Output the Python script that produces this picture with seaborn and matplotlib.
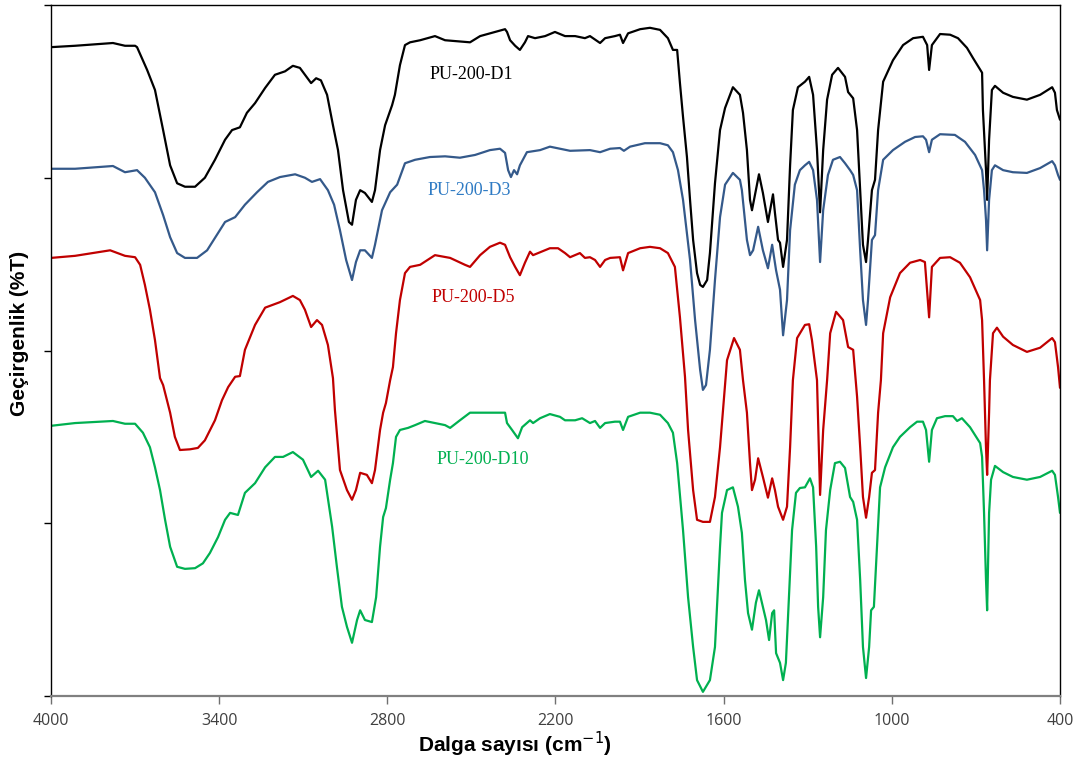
import numpy as np
import pandas as pd
import matplotlib
matplotlib.use("Agg")
import matplotlib.pyplot as plt
import seaborn as sns

# FTIR spectra (offset-stacked transmittance) of PU-200 samples
d1_wn = [4000, 3914, 3779, 3736, 3700, 3693, 3657, 3629, 3600, 3575, 3550, 3522, 3486, 3451, 3415,
         3379, 3354, 3326, 3301, 3272, 3236, 3201, 3165, 3137, 3112, 3094, 3072, 3054, 3037, 3015,
         2994, 2976, 2958, 2937, 2926, 2912, 2897, 2880, 2855, 2844, 2826, 2808, 2783, 2773, 2755,
         2737, 2719, 2683, 2630, 2594, 2505, 2469, 2416, 2380, 2373, 2362, 2344, 2327, 2309, 2298,
         2273, 2237, 2202, 2166, 2130, 2095, 2077, 2041, 2023, 1988, 1970, 1959, 1941, 1898, 1863,
         1827, 1799, 1781, 1766, 1756, 1745, 1731, 1720, 1709, 1695, 1684, 1674, 1659, 1649, 1631,
         1613, 1595, 1567, 1542, 1531, 1517, 1506, 1499, 1474, 1460, 1442, 1424, 1417, 1406, 1399,
         1388, 1374, 1363, 1353, 1335, 1310, 1295, 1281, 1267, 1256, 1245, 1231, 1213, 1192, 1167,
         1156, 1138, 1124, 1113, 1103, 1092, 1085, 1071, 1060, 1049, 1031, 996, 960, 924, 889, 874,
         867, 857, 828, 792, 764, 732, 710, 678, 675, 664, 660, 653, 643, 632, 603, 568, 518, 471,
         428, 418, 411, 400]
d1_t = [93.9, 94.1, 94.5, 94.1, 94.1, 93.9, 90.6, 87.7, 81.9, 76.8, 74.2, 73.7, 73.7, 75.0, 77.6,
        80.5, 81.9, 82.3, 84.4, 85.8, 88.0, 89.9, 90.4, 91.2, 90.9, 89.9, 88.7, 89.4, 89.1, 87.0,
        82.6, 79.0, 73.2, 68.6, 68.2, 71.8, 73.2, 72.8, 71.5, 73.2, 79.0, 82.6, 85.5, 87.0, 91.3,
        94.2, 94.6, 94.9, 95.5, 94.9, 94.6, 95.5, 96.1, 96.5, 96.1, 94.9, 94.1, 93.5, 94.6, 95.5,
        95.2, 95.5, 96.1, 95.5, 95.5, 95.2, 95.5, 94.5, 95.2, 95.5, 95.7, 94.5, 95.9, 96.5, 96.7,
        96.4, 95.2, 93.5, 93.5, 88.7, 83.8, 78.0, 71.8, 66.0, 61.2, 59.5, 59.2, 60.2, 64.1, 74.2,
        81.9, 85.1, 88.1, 87.0, 84.4, 79.0, 71.8, 70.3, 75.5, 72.8, 68.6, 72.6, 69.9, 66.0, 65.6,
        62.1, 66.0, 76.8, 84.8, 88.1, 88.9, 89.6, 87.0, 79.0, 70.0, 79.0, 86.3, 89.9, 90.9, 89.6,
        87.4, 86.5, 81.9, 73.2, 65.3, 62.8, 66.0, 73.2, 74.7, 81.9, 88.9, 92.0, 94.2, 95.2, 95.4, 94.2,
        90.6, 94.2, 95.8, 95.7, 95.2, 93.8, 92.3, 90.2, 84.8, 76.1, 71.8, 80.5, 87.7, 88.3, 87.3, 86.7,
        86.3, 87.0, 88.1, 87.3, 84.8, 83.4]

d3_wn = [4000, 3914, 3779, 3736, 3693, 3665, 3629, 3600, 3575, 3550, 3522, 3479, 3443, 3415, 3379,
         3343, 3308, 3265, 3226, 3183, 3129, 3094, 3069, 3040, 3012, 2990, 2969, 2947, 2926, 2912,
         2897, 2880, 2855, 2844, 2819, 2790, 2765, 2737, 2701, 2648, 2594, 2541, 2487, 2434, 2398,
         2380, 2369, 2359, 2348, 2337, 2327, 2302, 2255, 2220, 2148, 2077, 2041, 2005, 1970, 1956,
         1934, 1881, 1827, 1799, 1781, 1763, 1745, 1720, 1702, 1684, 1674, 1663, 1649, 1631, 1613,
         1595, 1567, 1542, 1535, 1517, 1506, 1495, 1477, 1460, 1442, 1427, 1413, 1399, 1388, 1374,
         1363, 1346, 1328, 1310, 1295, 1281, 1267, 1256, 1245, 1228, 1210, 1185, 1167, 1149, 1138,
         1124, 1113, 1103, 1092, 1085, 1071, 1060, 1049, 1031, 996, 953, 917, 889, 878, 867, 857,
         828, 775, 739, 703, 678, 671, 664, 660, 653, 643, 632, 603, 568, 518, 471, 428, 418, 407, 400]
d3_t = [76.3, 76.3, 76.7, 75.8, 76.1, 75.0, 72.9, 69.6, 66.4, 64.1, 63.4, 63.4, 64.5, 66.3, 68.6,
        69.3, 71.1, 72.9, 74.4, 75.1, 75.5, 75.0, 74.4, 74.8, 73.2, 71.1, 67.4, 63.1, 60.2, 62.8,
        64.5, 64.5, 63.4, 65.3, 70.3, 72.9, 74.0, 77.1, 77.6, 78.0, 78.1, 77.9, 78.3, 79.0, 79.2,
        78.6, 76.1, 75.1, 76.1, 75.5, 76.8, 78.7, 79.0, 79.5, 78.9, 79.0, 78.7, 79.2, 79.3, 78.9,
        79.5, 80.0, 80.0, 79.7, 78.7, 76.1, 71.8, 63.1, 54.4, 47.2, 44.3, 45.0, 50.1, 60.2, 69.3,
        74.0, 75.7, 74.7, 73.2, 66.0, 63.8, 64.5, 67.9, 64.5, 61.9, 65.3, 61.6, 58.8, 52.2, 57.3,
        67.4, 74.0, 76.1, 76.8, 77.3, 76.1, 71.8, 62.8, 70.3, 75.4, 77.6, 78.0, 77.1, 76.1, 75.4,
        73.2, 64.5, 57.3, 53.7, 57.3, 66.0, 66.7, 73.2, 77.6, 79.0, 80.2, 80.9, 81.0, 80.5, 78.7, 80.5,
        81.3, 81.2, 80.2, 78.3, 76.1, 73.2, 68.9, 64.5, 71.8, 76.1, 76.8, 76.1, 75.8, 75.7, 76.4,
        77.4, 76.8, 75.4, 74.7]

d5_wn = [4000, 3914, 3789, 3736, 3700, 3682, 3665, 3647, 3629, 3611, 3600, 3575, 3558, 3540, 3504,
         3476, 3451, 3415, 3390, 3368, 3343, 3326, 3308, 3272, 3236, 3183, 3137, 3112, 3094, 3072,
         3051, 3033, 3012, 2994, 2987, 2969, 2944, 2926, 2912, 2897, 2873, 2855, 2844, 2826, 2815,
         2805, 2790, 2780, 2769, 2755, 2737, 2719, 2683, 2630, 2576, 2523, 2505, 2469, 2434, 2398,
         2380, 2362, 2344, 2327, 2309, 2291, 2280, 2262, 2237, 2220, 2191, 2166, 2148, 2130, 2113,
         2095, 2077, 2059, 2041, 2023, 2005, 1970, 1959, 1941, 1898, 1863, 1827, 1799, 1774, 1756,
         1738, 1727, 1709, 1695, 1674, 1649, 1631, 1613, 1588, 1563, 1542, 1531, 1517, 1506, 1499,
         1488, 1477, 1460, 1442, 1427, 1417, 1406, 1388, 1374, 1363, 1353, 1338, 1310, 1295, 1285,
         1267, 1256, 1245, 1231, 1220, 1199, 1174, 1156, 1138, 1124, 1113, 1103, 1092, 1081, 1071,
         1060, 1049, 1039, 1031, 1006, 971, 935, 899, 882, 867, 857, 828, 792, 757, 721, 685, 678,
         671, 664, 660, 653, 650, 639, 625, 603, 568, 518, 471, 428, 418, 407, 400]
d5_t = [63.4, 63.7, 64.5, 63.7, 63.5, 62.4, 59.5, 55.9, 51.5, 46.0, 45.0, 41.0, 37.5, 35.6, 35.7,
        35.9, 37.0, 39.9, 42.8, 44.7, 46.2, 46.3, 50.1, 53.7, 56.2, 57.0, 57.9, 57.3, 55.9, 53.4,
        54.4, 53.7, 50.8, 46.0, 41.4, 32.7, 29.8, 28.4, 29.8, 32.3, 32.0, 30.8, 32.7, 38.5, 41.0,
        42.4, 45.7, 47.6, 52.5, 57.3, 61.2, 62.1, 62.4, 63.8, 63.4, 62.4, 62.1, 63.8, 65.0, 65.6,
        65.3, 63.5, 62.1, 60.9, 62.7, 64.3, 63.8, 64.1, 64.5, 64.8, 64.8, 64.1, 63.5, 63.8, 64.1,
        63.4, 63.5, 63.1, 62.1, 63.1, 63.4, 63.5, 61.6, 64.1, 64.8, 65.0, 64.8, 64.1, 62.1, 54.8,
        46.2, 38.5, 29.8, 25.5, 25.2, 25.2, 28.8, 36.0, 48.6, 51.8, 50.1, 45.7, 41.0, 33.7, 29.8,
        31.3, 34.4, 31.7, 28.7, 31.5, 29.8, 27.4, 25.5, 27.4, 36.0, 45.7, 51.8, 53.7, 53.8, 51.5,
        45.7, 29.1, 38.5, 45.7, 52.5, 55.6, 54.4, 50.5, 50.1, 43.3, 36.0, 28.8, 25.8, 28.8, 32.3,
        32.7, 41.0, 45.7, 52.5, 57.7, 61.2, 62.7, 63.1, 62.8, 54.8, 62.1, 63.4, 63.5, 62.7, 60.6, 57.3, 54.4,
        45.7, 35.9, 32.0, 41.0, 45.7, 52.5, 53.3, 52.0, 50.8, 49.8, 50.4, 51.8, 51.2, 47.6, 44.6]

d10_wn = [4000, 3914, 3779, 3736, 3700, 3672, 3647, 3629, 3611, 3593, 3575, 3550, 3522, 3486, 3458,
          3433, 3404, 3379, 3361, 3333, 3308, 3272, 3236, 3201, 3172, 3137, 3101, 3072, 3047, 3022,
          2997, 2980, 2962, 2944, 2926, 2908, 2897, 2880, 2855, 2840, 2826, 2815, 2805, 2790, 2780,
          2769, 2755, 2726, 2701, 2666, 2630, 2594, 2576, 2541, 2505, 2469, 2380, 2373, 2355, 2334,
          2319, 2291, 2280, 2255, 2220, 2184, 2166, 2130, 2105, 2077, 2059, 2041, 2023, 1988, 1970,
          1959, 1941, 1898, 1863, 1827, 1799, 1781, 1766, 1745, 1727, 1709, 1695, 1674, 1649, 1631,
          1613, 1606, 1588, 1567, 1549, 1535, 1524, 1513, 1499, 1485, 1474, 1460, 1449, 1438, 1427,
          1420, 1413, 1399, 1388, 1378, 1367, 1356, 1342, 1328, 1310, 1292, 1281, 1270, 1263, 1256,
          1245, 1235, 1220, 1203, 1185, 1167, 1149, 1138, 1124, 1113, 1103, 1092, 1081, 1074, 1064,
          1053, 1042, 1024, 996, 971, 935, 910, 889, 878, 867, 857, 839, 810, 782, 767, 750, 721,
          685, 678, 671, 664, 660, 653, 646, 632, 603, 568, 518, 471, 428, 418, 407, 400]
d10_t = [39.1, 39.5, 39.8, 39.4, 39.4, 38.1, 36.0, 33.1, 29.8, 25.5, 21.6, 18.7, 18.4, 18.5, 19.2,
         20.7, 23.0, 25.5, 26.5, 26.2, 29.4, 30.8, 33.1, 34.6, 34.6, 35.3, 34.2, 31.7, 32.6, 31.3,
         24.5, 18.7, 12.9, 10.0, 7.7, 11.0, 12.4, 11.0, 10.7, 14.3, 21.6, 25.9, 27.2, 31.3, 33.7,
         37.5, 38.5, 38.8, 39.2, 39.8, 39.5, 39.2, 38.8, 39.9, 41.0, 41.0, 41.0, 39.5, 38.5, 37.3,
         38.9, 39.9, 39.5, 40.2, 40.8, 40.4, 39.9, 39.9, 40.2, 39.5, 39.8, 38.8, 39.5, 39.7, 39.7,
         38.5, 40.4, 41.0, 41.0, 40.7, 39.5, 38.1, 33.7, 24.0, 14.3, 7.1, 2.3, 0.6, 2.3, 7.1,
         21.6, 26.5, 29.8, 30.2, 27.4, 23.6, 16.8, 12.0, 9.6, 13.5, 15.3, 12.9, 11.0, 8.1, 12.0,
         12.4, 6.2, 4.8, 2.3, 4.8, 14.3, 24.0, 29.4, 30.1, 30.2, 31.5, 30.2, 21.6, 12.9, 8.5,
         14.3, 24.0, 29.8, 33.7, 33.9, 33.0, 28.8, 28.1, 25.5, 16.8, 7.1, 2.6, 7.1, 12.4, 12.9,
         21.6, 30.2, 33.1, 36.0, 37.5, 38.9, 39.7, 39.7, 38.5, 33.9, 38.5, 40.2, 40.5, 40.5, 39.8, 40.2, 38.9,
         36.6, 34.6, 26.5, 16.8, 12.4, 26.5, 31.3, 33.3, 32.4, 31.7, 31.3, 31.7, 32.6, 32.0, 28.8, 26.5]

series_names = ["PU-200-D1", "PU-200-D3", "PU-200-D5", "PU-200-D10"]
line_colors = ["#000000", "#34598A", "#C00000", "#00B050"]
label_colors = ["#000000", "#2F7BC4", "#C00000", "#00B050"]
# label anchor (wavenumber, %T) for each curve name
label_wn = [2648, 2655, 2641, 2623]
label_t = [89.9, 73.2, 57.7, 34.2]

x_ticks = [4000, 3400, 2800, 2200, 1600, 1000, 400]
y_ticks = [0, 25, 50, 75, 100]

frames = []
for name, wn, t in zip(series_names, [d1_wn, d3_wn, d5_wn, d10_wn], [d1_t, d3_t, d5_t, d10_t]):
    frames.append(pd.DataFrame({"wn": wn, "T": t, "sample": name}))
df = pd.concat(frames, ignore_index=True)

sns.set_style("white")
plt.rcParams["font.family"] = ["Liberation Sans", "DejaVu Sans"]

fig = plt.figure(figsize=(10.86, 7.62), dpi=100)
ax = fig.add_axes([51 / 1086, 1 - 696 / 762, (1060 - 51) / 1086, (696 - 5) / 762])

sns.lineplot(data=df, x="wn", y="T", hue="sample", hue_order=series_names,
             palette=dict(zip(series_names, line_colors)), estimator=None, sort=False,
             linewidth=1.6, legend=False, ax=ax)

ax.set_xlim(4000, 400)
ax.set_ylim(0, 100)
ax.set_xticks(x_ticks)
ax.set_xticklabels([str(v) for v in x_ticks], fontsize=11.5, color="#404040",
                   fontfamily="Open Sans")
ax.set_yticks(y_ticks)
ax.set_yticklabels([])
ax.tick_params(axis="x", bottom=True, direction="out", length=6, width=1,
               color="#707070", pad=6)
ax.tick_params(axis="y", left=True, direction="out", length=5, width=1, color="#000000")

for side in ["top", "right", "left"]:
    ax.spines[side].set_color("#000000")
    ax.spines[side].set_linewidth(1.0)
ax.spines["bottom"].set_color("#808080")
ax.spines["bottom"].set_linewidth(1.6)

ax.set_xlabel("")
ax.set_ylabel("")
fig.text(515 / 1086, 1 - 744 / 762, "Dalga sayısı (cm$^{-1}$)", fontsize=15,
         fontweight="bold", color="#000000", ha="center", va="center")
fig.text(20 / 1086, 1 - 333 / 762, "Geçirgenlik (%T)", fontsize=15,
         fontweight="bold", color="#000000", ha="center", va="center", rotation=90)

for name, c, lx, ly in zip(series_names, label_colors, label_wn, label_t):
    ax.text(lx, ly, name, color=c, fontsize=13, fontfamily="Liberation Serif",
            ha="left", va="center")

fig.savefig("out.png", dpi=100)
